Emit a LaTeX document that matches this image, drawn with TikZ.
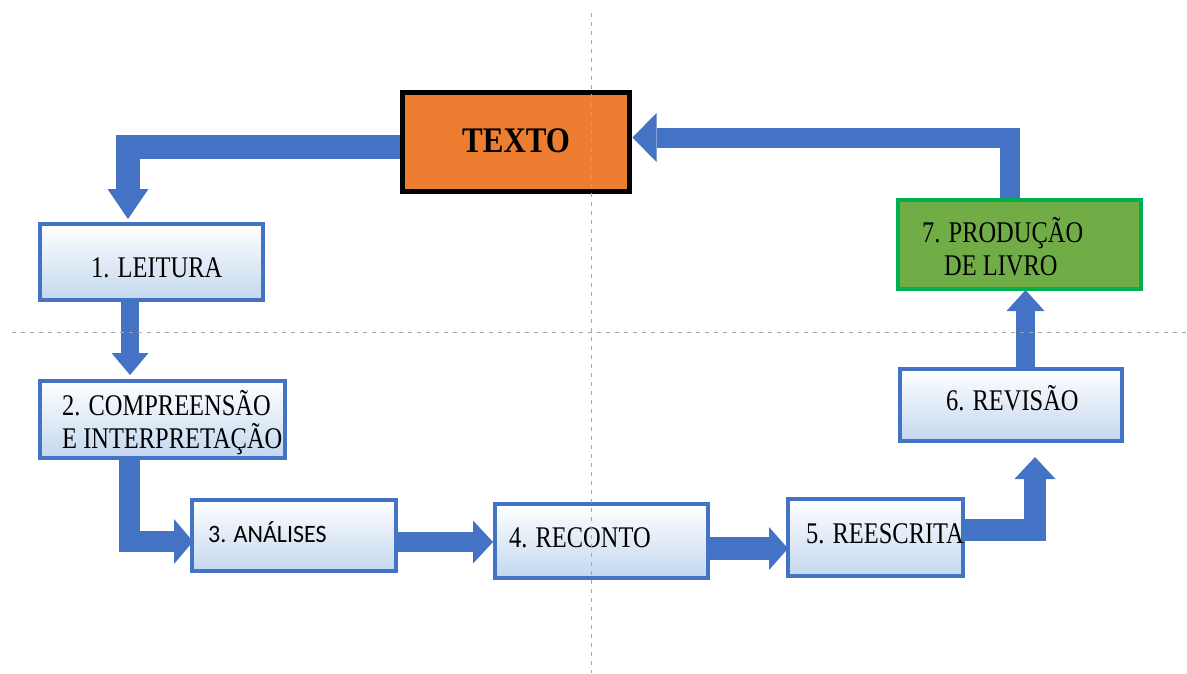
\documentclass[tikz,border=0pt]{standalone}
\usepackage{fontspec}
\setmainfont{Liberation Serif}
\newfontfamily\calfont{Carlito}
\usepackage{graphicx}
\usetikzlibrary{arrows.meta,calc,shadows}
\definecolor{myblue}{HTML}{4472C4}
\definecolor{boxblue}{HTML}{C3D7EF}
\definecolor{myorange}{HTML}{ED7D31}
\definecolor{mygreen}{HTML}{70AD47}
\definecolor{greenedge}{HTML}{00B050}
\definecolor{guide}{HTML}{A6A6A6}
\newcommand{\sqz}[2][0.815]{\scalebox{#1}[1]{#2}}
\tikzset{
  stepbox/.style={draw=myblue, line width=4pt, top color=white, bottom color=boxblue,
    inner sep=0pt, drop shadow={shadow xshift=2pt, shadow yshift=-2pt, opacity=0.22, fill=black}},
  textobox/.style={draw=black, line width=5pt, fill=myorange, inner sep=0pt,
    drop shadow={shadow xshift=2pt, shadow yshift=-2pt, opacity=0.22, fill=black}},
  livrobox/.style={draw=greenedge, line width=4pt, fill=mygreen, inner sep=0pt,
    drop shadow={shadow xshift=2pt, shadow yshift=-2pt, opacity=0.22, fill=black}},
  lbl/.style={anchor=base west, inner sep=0pt, font=\fontsize{30}{36}\selectfont},
  barrow/.style n args={3}{draw=myblue, line width=#1, line join=miter,
    -{Triangle[length=#2, width=#3, line width=0pt]}},
  guideline/.style={draw=guide, line width=1pt, dash pattern=on 4pt off 5pt}
}
\begin{document}
\begin{tikzpicture}[x=1pt,y=-1pt]
\fill[white] (0,0) rectangle (1187,673);
\useasboundingbox (0,0) rectangle (1187,673);

% boxes
\node[textobox, minimum width=227pt, minimum height=99pt] (texto) at (516,142) {};
\node[stepbox, minimum width=223pt, minimum height=76pt] (b1) at (151.5,262) {};
\node[stepbox, minimum width=245pt, minimum height=77pt] (b2) at (162.5,419.5) {};
\node[stepbox, minimum width=204pt, minimum height=71pt] (b3) at (294,535.5) {};
\node[stepbox, minimum width=213pt, minimum height=74pt] (b4) at (601.5,541) {};
\node[stepbox, minimum width=175pt, minimum height=77pt] (b5) at (875.5,537.5) {};
\node[stepbox, minimum width=222pt, minimum height=72pt] (b6) at (1011,405) {};
\node[livrobox, minimum width=243pt, minimum height=89pt] (b7) at (1019.5,244.5) {};

% texts
\node[anchor=base west, inner sep=0pt, font=\fontsize{36}{40}\selectfont\bfseries] (t0) at (462,152) {\sqz[0.86]{TEXTO}};
\node[lbl] (t1) at (91,277) {\sqz{1. LEITURA}};
\node[lbl] (t2a) at (62,415) {\sqz{2. COMPREENSÃO}};
\node[lbl] (t2b) at (62,448) {\sqz{E INTERPRETAÇÃO}};
\node[anchor=base west, inner sep=0pt, font=\calfont\fontsize{25}{30}\selectfont] (t3) at (208,542) {\sqz[0.96]{3. ANÁLISES}};
\node[lbl] (t4) at (509,547) {\sqz{4. RECONTO}};
\node[lbl] (t5) at (806,543) {\sqz{5. REESCRITA}};
\node[lbl] (t6) at (946,410) {\sqz{6. REVISÃO}};
\node[lbl] (t7a) at (922,242) {\sqz{7. PRODUÇÃO}};
\node[lbl] (t7b) at (944,275) {\sqz{DE LIVRO}};

% block arrows
\draw[barrow={24pt}{30pt}{41pt}] ($(texto.west)+(0,5)$) -| ($(b1.north)+(-23.5,-3)$);
\draw[barrow={18pt}{22pt}{37pt}] ($(b1.south)+(-21.5,0)$) -- ($(b2.north)+(-32.5,-4)$);
\draw[barrow={21pt}{19pt}{45pt}] ($(b2.south)+(-33,0)$) |- ($(b3.west)+(3,6)$);
\draw[barrow={20pt}{20pt}{43pt}] ($(b3.east)+(0,6.5)$) -- ($(b4.west)+(0,1)$);
\draw[barrow={23pt}{19pt}{43pt}] ($(b4.east)+(0,7.5)$) -- ($(b5.west)+(2,11)$);
\draw[barrow={22pt}{22pt}{41pt}] ($(b5.east)+(0,-7.5)$) -| ($(b6.south)+(24,14)$);
\draw[barrow={19pt}{21pt}{38pt}] ($(b6.north)+(14.5,0)$) -- ($(b7.south)+(6,-1)$);
\draw[barrow={20pt}{24pt}{49pt}] ($(b7.north)+(-10,0)$) |- ($(texto.east)+(0.5,-4.5)$);

% guide lines
\draw[guideline] (591,13) -- (591,673);
\draw[guideline] (12,332) -- (1187,332);
\end{tikzpicture}
\end{document}
